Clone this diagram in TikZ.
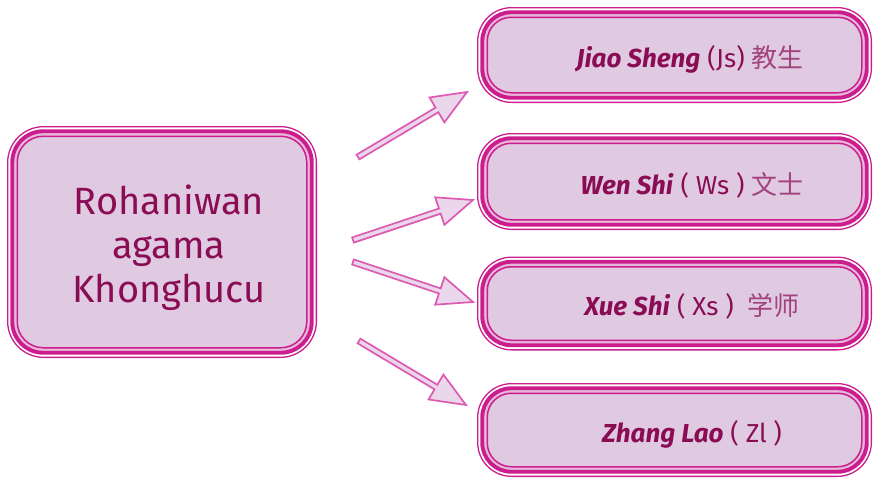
\documentclass[tikz,border=0pt]{standalone}
\usepackage{fontspec}
\setmainfont{Fira Sans}
\newfontfamily\cjk{Noto Sans CJK SC}
\usetikzlibrary{calc}
\definecolor{mag}{HTML}{CC1D8E}
\definecolor{pinkline}{HTML}{E6B9D9}
\definecolor{lav}{HTML}{E0CAE2}
\definecolor{txt}{HTML}{8A0C55}
\definecolor{cjkc}{HTML}{A2437E}
\definecolor{arrline}{HTML}{DE5AB2}
\definecolor{arrfill}{HTML}{EAD7EB}
\tikzset{
  layA/.style={draw=mag, line width=1.3pt, fill=white, inner sep=0pt},
  layB/.style={draw=mag, line width=3.9pt, fill=pinkline, inner sep=0pt},
  layC/.style={draw=mag, line width=1.5pt, fill=lav, inner sep=0pt},
  bigtext/.style={text=txt, align=center, font=\fontsize{38}{44}\selectfont},
  smalltext/.style={text=txt, font=\fontsize{26}{30}\selectfont},
  blockarrow/.style={draw=arrline, line width=1.7pt, fill=arrfill, line join=miter},
}
% #1 name, #2 cx, #3 cy, #4 width, #5 height, #6 radius
\newcommand\pbox[6]{%
  \node[layA, rounded corners=#6, minimum width=#4-1.3pt, minimum height=#5-1.3pt] (#1A) at (#2,#3) {};
  \node[layB, rounded corners=#6-5pt, minimum width=#4-10.5pt, minimum height=#5-10.5pt] (#1B) at (#2,#3) {};
  \node[layC, rounded corners=#6-10pt, minimum width=#4-20.5pt, minimum height=#5-20.5pt] (#1) at (#2,#3) {};
}
% block arrow from #1 to #2
\newcommand\barrow[2]{%
  \coordinate (#1h) at ($(#2)!35pt!(#1)$);
  \draw[blockarrow]
    ($(#1)!2.7pt!90:(#2)$) -- ($(#1h)!2.7pt!90:(#2)$) -- ($(#1h)!14.5pt!90:(#2)$)
    -- (#2) -- ($(#1h)!14.5pt!-90:(#2)$) -- ($(#1h)!2.7pt!-90:(#2)$)
    -- ($(#1)!2.7pt!-90:(#2)$) -- cycle;
}
\begin{document}
\begin{tikzpicture}[x=1pt,y=-1pt]
\useasboundingbox (0,0) rectangle (874,477);
% left box
\pbox{L}{162}{242}{310pt}{232pt}{36pt}
\node[bigtext] (Ltext) at (169,248) {Rohaniwan\\agama\\Khonghucu};
% right boxes
\pbox{R1}{674.5}{55}{395pt}{96pt}{34pt}
\pbox{R2}{674.5}{181.5}{395pt}{97pt}{34pt}
\pbox{R3}{674.5}{303.5}{395pt}{94pt}{34pt}
\pbox{R4}{674.5}{430}{395pt}{94pt}{34pt}
\node[smalltext] (T1) at (690,59) {\textbf{\textit{Jiao Sheng}} (Js) {\cjk\color{cjkc}教生}};
\node[smalltext] (T2) at (692,185) {\textbf{\textit{Wen Shi}}\ ( Ws )\ {\cjk\color{cjkc}文士}};
\node[smalltext] (T3) at (692,306) {\textbf{\textit{Xue Shi}} ( Xs )\ \ {\cjk\color{cjkc}学师}};
\node[smalltext] (T4) at (692,434) {\textbf{\textit{Zhang Lao}}\ ( Zl )};
% arrows
\coordinate (a1) at (358,157); \coordinate (b1) at (467,92);
\coordinate (a2) at (353,240); \coordinate (b2) at (473,200);
\coordinate (a3) at (353,262); \coordinate (b3) at (473,302);
\coordinate (a4) at (359,341); \coordinate (b4) at (466,405);
\barrow{a1}{b1}
\barrow{a2}{b2}
\barrow{a3}{b3}
\barrow{a4}{b4}
\end{tikzpicture}
\end{document}
